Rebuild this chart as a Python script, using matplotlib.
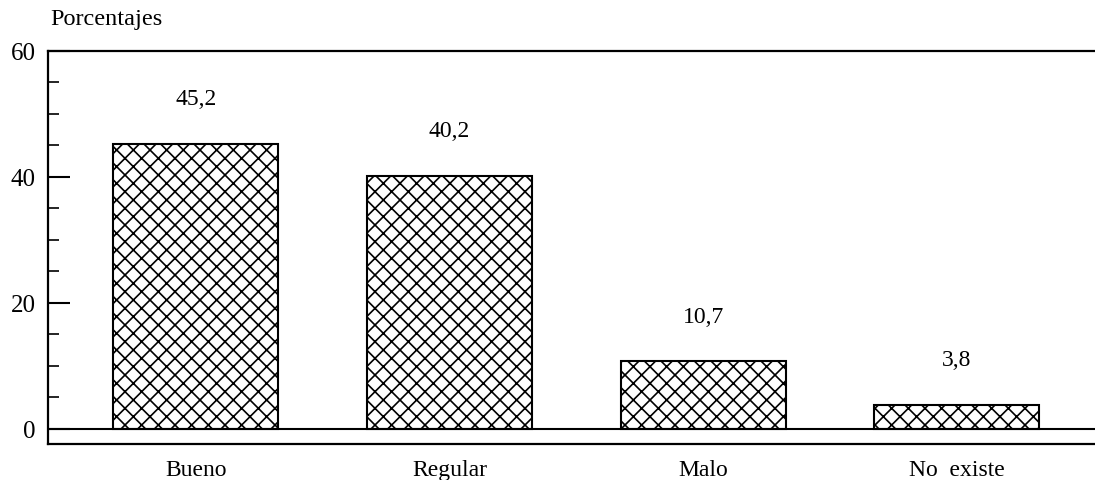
import matplotlib
matplotlib.use("Agg")
import matplotlib.pyplot as plt
from matplotlib.ticker import MultipleLocator

categories = ["Bueno", "Regular", "Malo", "No  existe"]
values = [45.2, 40.2, 10.7, 3.8]
value_labels = ["45,2", "40,2", "10,7", "3,8"]
yticks = [0, 20, 40, 60]

plt.rcParams['font.family'] = ['Liberation Serif', 'DejaVu Serif']
plt.rcParams['hatch.linewidth'] = 1.2

fig = plt.figure(figsize=(10.95, 4.81), dpi=100)
ax = fig.add_axes([48/1095, 1 - 445/481, 1 - 48/1095, (445 - 52)/481])

x = list(range(len(categories)))
ax.bar(x, values, width=0.65, facecolor='white', edgecolor='black',
       hatch='xx', linewidth=1.5, zorder=3)
for xi, v, lab in zip(x, values, value_labels):
    ax.text(xi, v + 7.2, lab, ha='center', va='center', fontsize=17)

ax.axhline(0, color='black', lw=1.5, zorder=4)
ax.set_xlim(-0.583, 3.545)
ax.set_ylim(-2.4, 60)
ax.set_yticks(yticks)
ax.set_yticklabels([str(t) for t in yticks], fontsize=18)
ax.yaxis.set_minor_locator(MultipleLocator(5))
ax.tick_params(axis='y', which='major', direction='in', length=16, width=1.5, pad=9)
ax.tick_params(axis='y', which='minor', direction='in', length=8, width=1.2)
ax.set_xticks(x)
ax.set_xticklabels(categories, fontsize=17)
ax.tick_params(axis='x', length=0, pad=11)
ax.spines['right'].set_visible(False)
for s in ['top', 'left', 'bottom']:
    ax.spines[s].set_linewidth(1.6)

fig.text(50/1095, 1 - 20/481, "Porcentajes", fontsize=17.5, ha='left', va='center')

fig.savefig("out.png", dpi=100)
